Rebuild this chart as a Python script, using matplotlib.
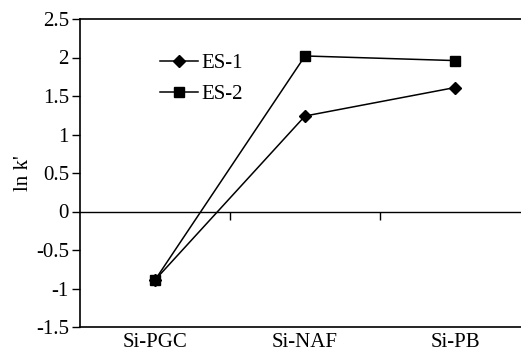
import matplotlib.pyplot as plt

plt.rcParams['font.family'] = ['Liberation Serif', 'DejaVu Serif']

# data
categories = ["Si-PGC", "Si-NAF", "Si-PB"]
es1 = [-0.89, 1.24, 1.61]
es2 = [-0.89, 2.02, 1.96]

fig = plt.figure(figsize=(5.21, 3.61), dpi=100)
# axes runs a bit past the right edge, as in the cropped original
ax = fig.add_axes([80 / 521, 34 / 361, 450 / 521, 308 / 361])

x = list(range(len(categories)))
ax.plot(x, es1, color="black", lw=1.1, marker="D", ms=6, label="ES-1")
ax.plot(x, es2, color="black", lw=1.1, marker="s", ms=7.5, label="ES-2")

ax.set_xlim(-0.5, 2.5)
ax.set_ylim(-1.5, 2.5)
ax.set_yticks([-1.5, -1, -0.5, 0, 0.5, 1, 1.5, 2, 2.5])
ax.set_yticklabels(["-1.5", "-1", "-0.5", "0", "0.5", "1", "1.5", "2", "2.5"])
ax.tick_params(axis="y", direction="out", length=6, width=1, labelsize=15, pad=2)

ax.set_xticks(x)
ax.set_xticklabels(categories)
ax.tick_params(axis="x", length=0, labelsize=15, pad=4)

for s in ax.spines.values():
    s.set_linewidth(1.2)

# zero line carrying the category boundary ticks
zax = ax.secondary_xaxis(1.5 / 4)
zax.set_xticks([0.5, 1.5])
zax.set_xticklabels(["", ""])
zax.tick_params(direction="out", length=6, width=1)
zax.spines["bottom"].set_linewidth(1.0)

ax.set_ylabel("ln k'", fontsize=15, labelpad=2)

ax.legend(loc="upper left", bbox_to_anchor=(0.178, 0.887), frameon=False,
          fontsize=15, handlelength=1.8, handletextpad=0.2, labelspacing=0.55,
          borderaxespad=0, borderpad=0)

fig.savefig("out.png", dpi=100)
